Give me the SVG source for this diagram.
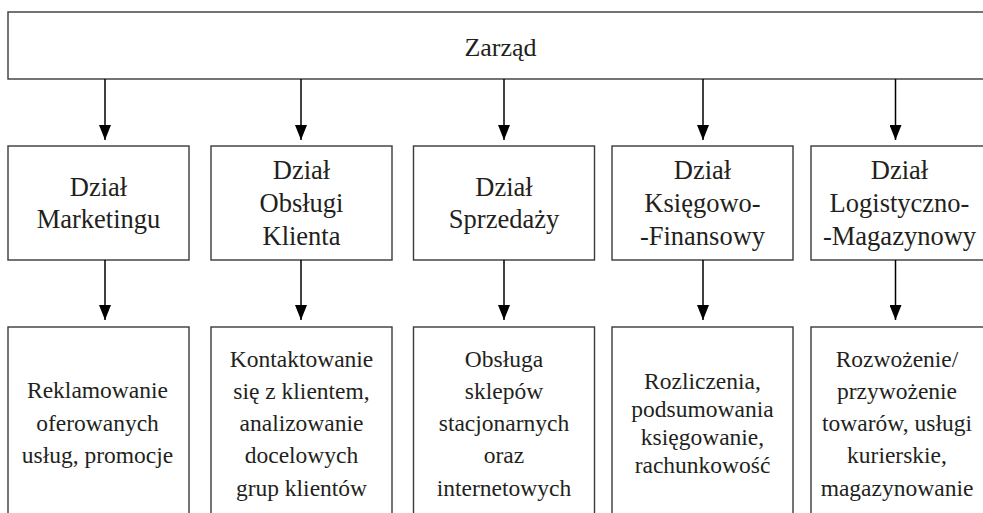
<svg xmlns="http://www.w3.org/2000/svg" width="983" height="513" viewBox="0 0 983 513">
<style>
.box{fill:#fff;stroke:#3a3a3a;stroke-width:1.4}
.conn{stroke:#000;stroke-width:1.5;fill:none;marker-end:url(#arr)}
text{fill:#231f20;text-anchor:middle;font-family:'Liberation Serif',Tinos,'Times New Roman',serif}
.t0{font-size:26px}
.t1{font-size:26.5px}
.t2{font-size:23.5px}
</style>
<defs>
<marker id="arr" viewBox="0 0 15 12" refX="15" refY="6" markerWidth="15" markerHeight="12" markerUnits="userSpaceOnUse" orient="auto">
<path d="M0,0 L15,6 L0,12 z" fill="#000"/>
</marker>
</defs>
<rect width="983" height="513" fill="#fff"/>
<g id="zarzad"><rect class="box" x="8" y="12" width="1000" height="67"/><text class="t0" x="500.5" y="56">Zarząd</text></g>

<g id="d1"><rect class="box" x="8" y="146" width="181" height="114"/><text class="t1" x="98.5" y="195.7">Dział</text><text class="t1" x="98.5" y="228.3">Marketingu</text></g>
<g id="d2"><rect class="box" x="211" y="146" width="181" height="114"/><text class="t1" x="301.5" y="179.3">Dział</text><text class="t1" x="301.5" y="212">Obsługi</text><text class="t1" x="301.5" y="244.6">Klienta</text></g>
<g id="d3"><rect class="box" x="413.5" y="146" width="181" height="114"/><text class="t1" x="504" y="195.7">Dział</text><text class="t1" x="504" y="228.3">Sprzedaży</text></g>
<g id="d4"><rect class="box" x="612" y="146" width="181" height="114"/><text class="t1" x="702.5" y="179.3">Dział</text><text class="t1" x="702.5" y="212">Księgowo-</text><text class="t1" x="702.5" y="244.6">-Finansowy</text></g>
<g id="d5"><rect class="box" x="811" y="146" width="190" height="114"/><text class="t1" x="899.5" y="179.3">Dział</text><text class="t1" x="899.5" y="212">Logistyczno-</text><text class="t1" x="899.5" y="244.6">-Magazynowy</text></g>

<g id="z1"><rect class="box" x="8" y="327" width="181" height="200"/><text class="t2" x="97.5" y="398.3">Reklamowanie</text><text class="t2" x="97.5" y="430.8">oferowanych</text><text class="t2" x="97.5" y="463.3">usług, promocje</text></g>
<g id="z2"><rect class="box" x="211" y="327" width="181" height="200"/><text class="t2" x="301.5" y="366.5">Kontaktowanie</text><text class="t2" x="301.5" y="398.8">się z klientem,</text><text class="t2" x="301.5" y="431">analizowanie</text><text class="t2" x="301.5" y="463.3">docelowych</text><text class="t2" x="301.5" y="495.5">grup klientów</text></g>
<g id="z3"><rect class="box" x="413.5" y="327" width="181" height="200"/><text class="t2" x="504" y="366.5">Obsługa</text><text class="t2" x="504" y="398.8">sklepów</text><text class="t2" x="504" y="431">stacjonarnych</text><text class="t2" x="504" y="463.3">oraz</text><text class="t2" x="504" y="495.5">internetowych</text></g>
<g id="z4"><rect class="box" x="612" y="327" width="181" height="200"/><text class="t2" x="702.5" y="389">Rozliczenia,</text><text class="t2" x="702.5" y="417">podsumowania</text><text class="t2" x="702.5" y="445">księgowanie,</text><text class="t2" x="702.5" y="473">rachunkowość</text></g>
<g id="z5"><rect class="box" x="811" y="327" width="190" height="200"/><text class="t2" x="897" y="366.5">Rozwożenie/</text><text class="t2" x="897" y="398.8">przywożenie</text><text class="t2" x="897" y="431">towarów, usługi</text><text class="t2" x="897" y="463.3">kurierskie,</text><text class="t2" x="897" y="495.5">magazynowanie</text></g>

<g id="connectors">
<line class="conn" x1="105" y1="79" x2="105" y2="140"/>
<line class="conn" x1="301" y1="79" x2="301" y2="140"/>
<line class="conn" x1="504" y1="79" x2="504" y2="140"/>
<line class="conn" x1="703" y1="79" x2="703" y2="140"/>
<line class="conn" x1="895.5" y1="79" x2="895.5" y2="140"/>
<line class="conn" x1="105" y1="260" x2="105" y2="320"/>
<line class="conn" x1="301" y1="260" x2="301" y2="320"/>
<line class="conn" x1="504" y1="260" x2="504" y2="320"/>
<line class="conn" x1="703" y1="260" x2="703" y2="320"/>
<line class="conn" x1="895.5" y1="260" x2="895.5" y2="320"/>
</g>
</svg>
